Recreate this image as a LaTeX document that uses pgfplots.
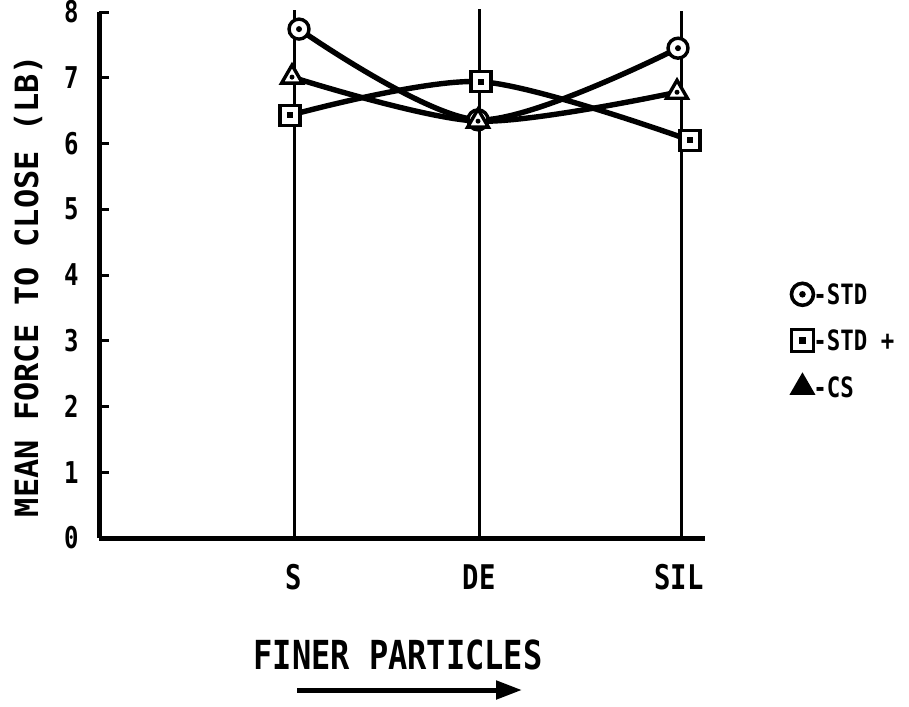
\documentclass[border=0pt]{standalone}
\usepackage{fontspec}
\usepackage{pgfplots}
\pgfplotsset{compat=1.18}
\usetikzlibrary{arrows.meta}
\newfontfamily\lett[FakeStretch=0.8]{DejaVu Sans Mono}
\newfontfamily\lettw{DejaVu Sans Mono}

\pgfdeclareplotmark{cdot}{%
  \pgfpathcircle{\pgfpointorigin}{\pgfplotmarksize}\pgfusepathqfillstroke
  \begin{pgfscope}\pgfsetfillcolor{black}%
  \pgfpathcircle{\pgfpointorigin}{0.3\pgfplotmarksize}\pgfusepathqfill\end{pgfscope}}
\pgfdeclareplotmark{sdot}{%
  \pgfpathrectangle{\pgfpoint{-\pgfplotmarksize}{-\pgfplotmarksize}}{\pgfpoint{2\pgfplotmarksize}{2\pgfplotmarksize}}\pgfusepathqfillstroke
  \begin{pgfscope}\pgfsetfillcolor{black}%
  \pgfpathrectangle{\pgfpoint{-0.3\pgfplotmarksize}{-0.3\pgfplotmarksize}}{\pgfpoint{0.6\pgfplotmarksize}{0.6\pgfplotmarksize}}\pgfusepathqfill\end{pgfscope}}
\pgfdeclareplotmark{tdot}{%
  \pgfpathmoveto{\pgfpointpolar{90}{1.2\pgfplotmarksize}}%
  \pgfpathlineto{\pgfpointpolar{210}{1.2\pgfplotmarksize}}%
  \pgfpathlineto{\pgfpointpolar{330}{1.2\pgfplotmarksize}}%
  \pgfpathclose\pgfusepathqfillstroke
  \begin{pgfscope}\pgfsetfillcolor{black}%
  \pgfpathcircle{\pgfpointorigin}{0.25\pgfplotmarksize}\pgfusepathqfill\end{pgfscope}}

\begin{document}
\begin{tikzpicture}[x=0.5pt,y=-0.5pt]
\path[use as bounding box] (0,0) rectangle (909,706);
\begin{axis}[
  at={(49.5pt,-269pt)}, anchor=south west,
  scale only axis, width=303pt, height=263pt,
  xmin=99, xmax=705, ymin=0, ymax=8,
  axis lines=left,
  axis line style={line width=2.5pt,-},
  clip=false,
  ytick={0,1,...,8},
  xtick={294,479,679}, xticklabels={S,DE,SIL},
  tick align=inside, major tick length=5pt,
  ytick style={line width=1.5pt,black},
  xtick style={draw=none},
  /pgf/number format/assume math mode=true,
  yticklabel style={font=\lett\bfseries\fontsize{15}{15}\selectfont, anchor=east, inner sep=0pt, xshift=-10pt},
  xticklabel style={font=\lett\bfseries\fontsize{17}{17}\selectfont, anchor=north, inner sep=0pt, yshift=-13pt},
  legend cell align=left,
  legend style={draw=none, fill=none, at={(1.142,0.485)}, anchor=north west,
    inner sep=0pt, row sep=12pt,
    nodes={inner sep=0pt, text height=10pt, text depth=0pt},
    font=\lett\bfseries\fontsize{14}{14}\selectfont},
  /tikz/every even column/.append style={column sep=2pt},
]
% vertical category lines
\addplot[black, line width=1.5pt, forget plot] coordinates {(294,0) (294,8.03)};
\addplot[black, line width=1.5pt, forget plot] coordinates {(479,0) (479,8.05)};
\addplot[black, line width=1.5pt, forget plot] coordinates {(681,0) (681,8.02)};
% STD
\addplot[black, line width=2.7pt, smooth, mark=cdot, mark size=5pt,
  mark options={line width=1.7pt, fill=white, solid},
  legend image code/.code={\draw[line width=1.8pt] plot[only marks, mark=cdot, mark size=5.5pt, mark options={fill=white}] coordinates {(0,0)};}]
  coordinates {(299,7.74) (478,6.36) (678,7.45)};
\addlegendentry{-STD}
% STD+
\addplot[black, line width=2.7pt, smooth, mark=sdot, mark size=5pt,
  mark options={line width=1.7pt, fill=white, solid},
  legend image code/.code={\draw[line width=1.8pt] plot[only marks, mark=sdot, mark size=5.5pt, mark options={fill=white}] coordinates {(0,0)};}]
  coordinates {(290,6.43) (481,6.94) (690,6.05)};
\addlegendentry{-STD +}
% CS
\addplot[black, line width=2.7pt, smooth, mark=tdot, mark size=5pt,
  mark options={line width=1.7pt, fill=white, solid},
  legend image code/.code={\draw[line width=1.5pt] plot[only marks, mark=triangle*, mark size=6pt, mark options={fill=black}] coordinates {(0,0)};}]
  coordinates {(292,7.01) (478,6.34) (677,6.78)};
\addlegendentry{-CS}
\end{axis}
\node[rotate=90, font=\lettw\bfseries\fontsize{16}{16}\selectfont, inner sep=0pt] at (28,286) {MEAN FORCE TO CLOSE (LB)};
\node[font=\lett\bfseries\fontsize{20}{20}\selectfont, inner sep=0pt] at (398,655) {FINER PARTICLES};
\draw[line width=2.5pt, -{Triangle[length=13pt,width=9pt]}] (297,690) -- (522,690);
\end{tikzpicture}
\end{document}
